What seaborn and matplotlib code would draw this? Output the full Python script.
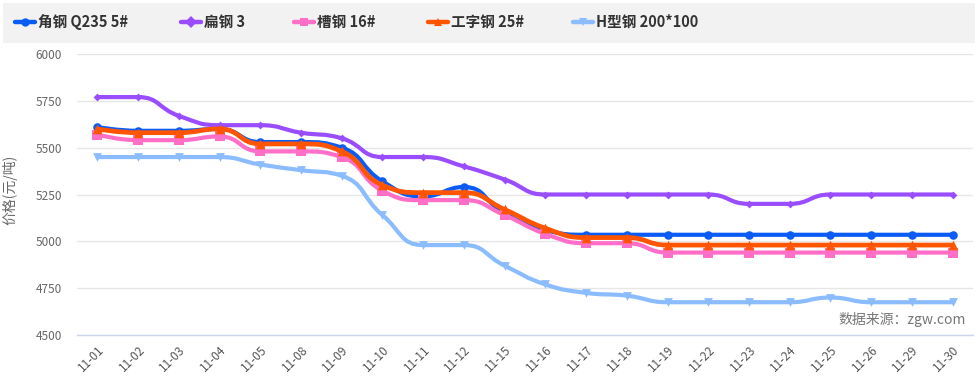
import numpy as np
import matplotlib
matplotlib.use("Agg")
import matplotlib.pyplot as plt
from matplotlib.path import Path
from matplotlib.patches import PathPatch, Rectangle
from matplotlib.lines import Line2D
import seaborn as sns

# données
dates = ["11-01", "11-02", "11-03", "11-04", "11-05", "11-08", "11-09", "11-10",
         "11-11", "11-12", "11-15", "11-16", "11-17", "11-18", "11-19", "11-22",
         "11-23", "11-24", "11-25", "11-26", "11-29", "11-30"]
jiaogang = [5610, 5590, 5590, 5600, 5530, 5530, 5500, 5320, 5240, 5290, 5150,
            5060, 5035, 5035, 5035, 5035, 5035, 5035, 5035, 5035, 5035, 5035]
biangang = [5770, 5770, 5670, 5620, 5620, 5580, 5550, 5450, 5450, 5400, 5330,
            5250, 5250, 5250, 5250, 5250, 5200, 5200, 5250, 5250, 5250, 5250]
caogang = [5570, 5540, 5540, 5560, 5480, 5480, 5450, 5270, 5220, 5220, 5140,
           5040, 4990, 4990, 4940, 4940, 4940, 4940, 4940, 4940, 4940, 4940]
gongzigang = [5600, 5580, 5580, 5600, 5520, 5520, 5480, 5300, 5260, 5260, 5170,
              5070, 5020, 5020, 4980, 4980, 4980, 4980, 4980, 4980, 4980, 4980]
hxinggang = [5450, 5450, 5450, 5450, 5410, 5380, 5350, 5140, 4980, 4980, 4870,
             4770, 4725, 4710, 4675, 4675, 4675, 4675, 4700, 4675, 4675, 4675]

series = [
    ("角钢 Q235 5#", jiaogang, "#0a5cf5", "o", 38, 3.0),
    ("扁钢 3", biangang, "#9a4dff", "D", 16, 3.0),
    ("槽钢 16#", caogang, "#ff6ec7", "s", 48, 3.0),
    ("工字钢 25#", gongzigang, "#ff5500", "^", 48, 3.4),
    ("H型钢 200*100", hxinggang, "#8bbcff", "v", 40, 3.0),
]


def borne(v, a, b):
    return min(max(v, min(a, b)), max(a, b))


def courbe_lisse(xs, ys, sx, sy, smooth=0.5):
    # courbe de Bézier façon echarts (smooth=true, points de contrôle bornés)
    X = np.asarray(xs, float) * sx
    Y = np.asarray(ys, float) * sy
    n = len(X)
    verts = [(X[0], Y[0])]
    codes = [Path.MOVETO]
    cp0 = (X[0], Y[0])
    for i in range(1, n):
        x, y = X[i], Y[i]
        if i == n - 1:
            cp1 = (x, y)
            nxt = cp0
        else:
            px, py = X[i - 1], Y[i - 1]
            nx, ny = X[i + 1], Y[i + 1]
            vx, vy = nx - px, ny - py
            l0 = np.hypot(x - px, y - py)
            l1 = np.hypot(nx - x, ny - y)
            r = l1 / (l0 + l1)
            ncx = borne(x + vx * smooth * r, nx, x)
            ncy = borne(y + vy * smooth * r, ny, y)
            vx, vy = ncx - x, ncy - y
            c1x = borne(x - vx * l0 / l1, px, x)
            c1y = borne(y - vy * l0 / l1, py, y)
            vx, vy = x - c1x, y - c1y
            ncx = x + vx * l1 / l0
            ncy = y + vy * l1 / l0
            cp1 = (c1x, c1y)
            nxt = (ncx, ncy)
        verts += [cp0, cp1, (x, y)]
        codes += [Path.CURVE4] * 3
        cp0 = nxt
    verts = [(vx_ / sx, vy_ / sy) for vx_, vy_ in verts]
    return Path(verts, codes)


sns.set_theme(style="white")
plt.rcParams['font.family'] = ['Noto Sans CJK SC', 'DejaVu Sans']

fig = plt.figure(figsize=(9.78, 3.83), dpi=100)
ax = fig.add_axes([77 / 978, 1 - 335 / 383, 896 / 978, 281 / 383])

idx = np.arange(len(dates))
for z, (nom, vals, couleur, marq, taille, lw) in enumerate(series):
    chemin = courbe_lisse(idx, vals, 40.7, 46.8 / 250)
    ax.add_patch(PathPatch(chemin, fill=False, edgecolor=couleur, lw=lw,
                           capstyle="round", joinstyle="round", zorder=3 + z))
    sns.scatterplot(x=idx, y=vals, marker=marq, s=taille, color=couleur,
                    edgecolor=couleur, linewidth=0, ax=ax, zorder=3 + z)

ax.set_xlim(-0.5, len(dates) - 0.5)
ax.set_ylim(4500, 6000)
ax.set_yticks(np.arange(4500, 6001, 250))
ax.set_xticks(idx)
ax.set_xticklabels(dates, rotation=45, ha="right", va="top",
                   rotation_mode="anchor", fontsize=8.5, color="#555555")
ax.tick_params(axis="x", length=0, pad=6)
ax.tick_params(axis="y", length=0, pad=11, labelsize=8.5, labelcolor="#666666")
ax.grid(axis="y", color="#e6e6e6", lw=1)
ax.set_axisbelow(True)
for cote in ["left", "right", "top"]:
    ax.spines[cote].set_visible(False)
ax.spines["bottom"].set_color("#ccd6eb")
ax.spines["bottom"].set_linewidth(1)

ax.set_ylabel("价格(元/吨)", fontsize=10, color="#666666")
ax.yaxis.set_label_coords(-0.066, 0.516)

ax.text(0.992, 0.03, "数据来源：zgw.com", transform=ax.transAxes,
        ha="right", va="bottom", fontsize=10, color="#777777", zorder=10)

# bandeau de légende
fig.patches.append(Rectangle((3 / 978, 1 - 43 / 383), 972 / 978, 40 / 383,
                             transform=fig.transFigure, facecolor="#f2f2f2",
                             edgecolor="none", zorder=0))
pos_leg = [15, 181, 294, 428, 573]
yl = 1 - 22 / 383
for (nom, vals, couleur, marq, taille, lw), x0 in zip(series, pos_leg):
    fig.add_artist(Line2D([x0 / 978, (x0 + 20) / 978], [yl, yl],
                          transform=fig.transFigure, color=couleur, lw=3.2))
    fig.add_artist(Line2D([(x0 + 10) / 978], [yl], transform=fig.transFigure,
                          color=couleur, marker=marq, markersize=6,
                          markeredgewidth=0))
    fig.text((x0 + 23) / 978, yl, nom, ha="left", va="center", fontsize=10.5,
             fontweight="bold", color="#333333")

fig.savefig("out.png", dpi=100)
